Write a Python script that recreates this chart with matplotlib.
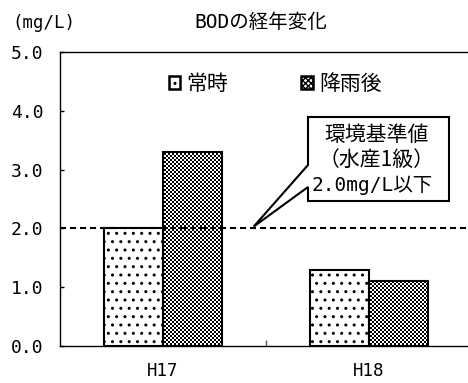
import numpy as np
import matplotlib
matplotlib.use("Agg")
import matplotlib.pyplot as plt
from matplotlib.patches import Patch, Polygon
from matplotlib.transforms import IdentityTransform

plt.rcParams["font.family"] = ["Noto Sans CJK JP", "DejaVu Sans"]
plt.rcParams["hatch.linewidth"] = 1.0

# BOD annual values (mg/L)
years = ["H17", "H18"]
normal = [2.0, 1.3]        # 常時
after_rain = [3.3, 1.1]    # 降雨後
series_labels = ["常時", "降雨後"]
standard = 2.0             # 環境基準値 (水産1級)
yticks = [0.0, 1.0, 2.0, 3.0, 4.0, 5.0]

MONO = "DejaVu Sans Mono"
MIXED = [MONO, "Noto Sans CJK JP"]

W, H = 468, 383
fig = plt.figure(figsize=(W / 100, H / 100), dpi=100)
ax = fig.add_axes([60 / W, 37 / H, 412 / W, 294 / H])
ax.patch.set_visible(False)

x = np.arange(len(years))
bw = 0.286
ax.bar(x - bw / 2, normal, bw, facecolor="white", edgecolor="black",
       linewidth=1.5, hatch="..", zorder=2)
rain_bars = ax.bar(x + bw / 2, after_rain, bw, facecolor="none",
                   edgecolor="black", linewidth=1.5, zorder=2)

# fine checkerboard fill for the after-rain bars
yy, xx = np.mgrid[0:H, 0:W]
checker = ((yy // 2 + xx // 2) % 2).astype(float)
for p in rain_bars.patches:
    im = fig.figimage(checker, cmap="gray", vmin=0, vmax=1, zorder=-1,
                      origin="lower")
    im.set_clip_path(p)

# environmental standard line
ax.axhline(standard, color="black", lw=1.5, linestyle=(0, (2.9, 1.9)), zorder=3)

ax.set_xlim(-0.5, 1.5)
ax.set_ylim(0, 5)
ax.set_yticks(yticks)
ax.set_yticklabels([f"{v:.1f}" for v in yticks], family=MONO, fontsize=13)
ax.tick_params(axis="y", direction="in", length=3, width=1, pad=12)
ax.set_xticks(x)
ax.set_xticklabels(years, family=MONO, fontsize=12.5)
ax.tick_params(axis="x", which="major", length=0, pad=11.5)
ax.set_xticks([0.5], minor=True)
ax.tick_params(axis="x", which="minor", direction="in", length=4.5, width=1,
               color="#555555")
for s in ax.spines.values():
    s.set_linewidth(1.0)
ax.spines["right"].set_visible(False)

fig.text(261 / W, 1 - 23 / H, "BODの経年変化", ha="center", va="center",
         family=MIXED, fontsize=14)
fig.text(12 / W, 1 - 23 / H, "(mg/L)", ha="left", va="center",
         family=MONO, fontsize=12.5)

handles = [
    Patch(facecolor="white", edgecolor="black", lw=1.8, hatch=".."),
    Patch(facecolor="white", edgecolor="black", lw=1.8, hatch="xxxxxx"),
]
ax.legend(handles, series_labels, ncol=2, loc="center left",
          bbox_to_anchor=(169 / W, 1 - 84 / H), bbox_transform=fig.transFigure,
          frameon=False, fontsize=15, handlelength=0.55, handleheight=0.55,
          handletextpad=0.3, columnspacing=3.5, borderpad=0, borderaxespad=0)

# callout box pointing at the standard line
def px(u, v):
    return (u, H - v)

tip = ax.transData.transform((0.44, 2.03))
verts = [px(308, 117), px(449, 117), px(449, 201), px(308, 201),
         px(308, 187), tuple(tip), px(308, 165)]
callout = Polygon(verts, closed=True, facecolor="white", edgecolor="black",
                  lw=1.5, transform=IdentityTransform(), zorder=5)
fig.add_artist(callout)

fig.text(377 / W, 1 - 135 / H, "環境基準値", ha="center", va="center",
         fontsize=15, zorder=6)
fig.text(377 / W, 1 - 160 / H, "（水産1級）", ha="center", va="center",
         fontsize=15, zorder=6)
fig.text(372 / W, 1 - 185 / H, "2.0mg/L以下", ha="center", va="center",
         family=MIXED, fontsize=14, zorder=6)

fig.savefig("out.png", dpi=100, facecolor="white")
